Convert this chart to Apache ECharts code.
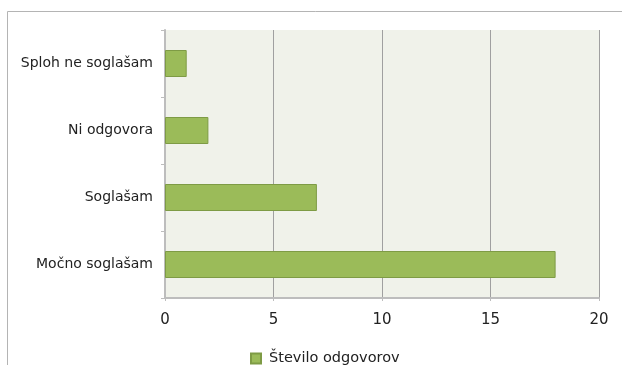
<!DOCTYPE html>
<html>
<head>
<meta charset="utf-8">
<script src="https://cdn.jsdelivr.net/npm/echarts@6/dist/echarts.min.js"></script>
<style>
  html, body { margin: 0; padding: 0; background: #ffffff; }
  #chart { width: 622px; height: 365px; }
</style>
</head>
<body>
<div id="chart"></div>
<script>
// Survey answers, listed bottom to top as they appear on the category axis
const categories = ['Močno soglašam', 'Soglašam', 'Ni odgovora', 'Sploh ne soglašam'];
const responseCounts = [18, 7, 2, 1];
const seriesName = 'Število odgovorov';
const xTicks = [0, 5, 10, 15, 20];

const labelFont = '"DejaVu Sans", sans-serif';

const chart = echarts.init(document.getElementById('chart'), null, { renderer: 'canvas' });

chart.setOption({
  backgroundColor: '#ffffff',
  animation: false,
  graphic: [
    {
      // outer frame around the chart area
      type: 'rect',
      shape: { x: 7.5, y: 11.5, width: 700, height: 400 },
      style: { fill: 'none', stroke: '#b4b4b4', lineWidth: 1 },
      silent: true,
      z: -10
    }
  ],
  grid: {
    left: 165,
    top: 30,
    width: 434,
    height: 268,
    show: true,
    backgroundColor: '#f0f2ea',
    borderWidth: 0
  },
  legend: {
    top: 346,
    left: 245,
    itemWidth: 10,
    itemHeight: 10,
    itemGap: 8,
    icon: 'rect',
    textStyle: { fontFamily: labelFont, fontSize: 14.5, color: '#222', padding: [0, 0, 0, 3] },
    data: [seriesName]
  },
  xAxis: {
    type: 'value',
    min: xTicks[0],
    max: xTicks[xTicks.length - 1],
    interval: xTicks[1] - xTicks[0],
    axisLine: { show: true, lineStyle: { color: '#bdbdbd', width: 2 } },
    axisTick: { show: true, length: 3, lineStyle: { color: '#bdbdbd' } },
    axisLabel: { margin: 15, fontFamily: labelFont, fontSize: 15, color: '#222' },
    splitLine: { show: true, lineStyle: { color: '#a0a0a0', width: 1 } }
  },
  yAxis: {
    type: 'category',
    data: categories,
    axisLine: { show: true, lineStyle: { color: '#bdbdbd', width: 2 } },
    axisTick: { show: true, length: 4, alignWithLabel: false, lineStyle: { color: '#bdbdbd' } },
    axisLabel: { margin: 12, fontFamily: labelFont, fontSize: 14, color: '#222' },
    splitLine: { show: false }
  },
  series: [
    {
      name: seriesName,
      type: 'bar',
      data: responseCounts,
      barWidth: 27,
      itemStyle: { color: '#9bbb59', borderColor: '#7e9b45', borderWidth: 1 }
    }
  ]
});
</script>
</body>
</html>
